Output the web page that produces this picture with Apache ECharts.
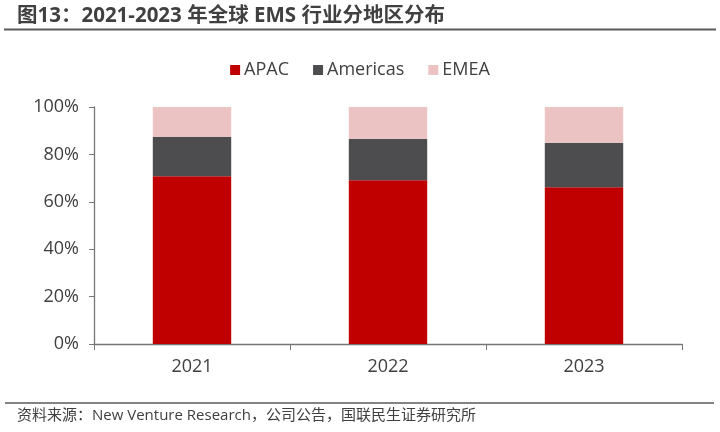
<!DOCTYPE html>
<html>
<head>
<meta charset="utf-8">
<script src="https://cdn.jsdelivr.net/npm/echarts@6/dist/echarts.min.js"></script>
<style>html,body{margin:0;padding:0;background:#fff}#c{width:720px;height:432px}</style>
</head>
<body>
<div id="c"></div>
<script>
const categories = ['2021', '2022', '2023'];
const apac = [70.8, 69.1, 66.1];
const americas = [16.5, 17.5, 18.8];
const emea = [12.7, 13.4, 15.1];
const yTicks = [0, 20, 40, 60, 80, 100];
const titleText = '图13：2021-2023 年全球 EMS 行业分地区分布';
const sourceText = '资料来源：New Venture Research，公司公告，国联民生证券研究所';

const FONT = '"Open Sans", "Noto Sans CJK SC", sans-serif';
const chart = echarts.init(document.getElementById('c'));
chart.setOption({
  animation: false,
  backgroundColor: '#fff',
  textStyle: { fontFamily: FONT },
  title: {
    text: titleText, left: 12, top: 1,
    textStyle: { fontSize: 20.5, fontWeight: 'bold', color: '#404040', fontFamily: FONT }
  },
  legend: {
    top: 56, left: 'center',
    itemWidth: 10, itemHeight: 10, itemGap: 24,
    textStyle: { fontSize: 18, color: '#404040', padding: [0, 0, 0, -1] },
    icon: 'rect',
    data: ['APAC', 'Americas', 'EMEA']
  },
  grid: { left: 94, right: 38, top: 107, bottom: 88 },
  xAxis: {
    type: 'category', data: categories,
    axisLine: { lineStyle: { color: '#767676', width: 1.3 } },
    axisTick: { show: true, length: 6, lineStyle: { color: '#767676' } },
    axisLabel: { fontSize: 18, color: '#404040', margin: 14 }
  },
  yAxis: {
    type: 'value', min: 0, max: 100, interval: 20,
    axisLine: { show: true, lineStyle: { color: '#767676', width: 1.3 } },
    axisTick: { show: true, length: 5, lineStyle: { color: '#767676' } },
    splitLine: { show: false },
    axisLabel: {
      fontSize: 18, color: '#404040', margin: 15,
      formatter: v => (yTicks.includes(v) ? v + '%' : '')
    }
  },
  series: [
    { name: 'APAC', type: 'bar', stack: 's', data: apac, barWidth: '40%',
      itemStyle: { color: '#C00000' } },
    { name: 'Americas', type: 'bar', stack: 's', data: americas, barWidth: '40%',
      itemStyle: { color: '#4D4D4F' } },
    { name: 'EMEA', type: 'bar', stack: 's', data: emea, barWidth: '40%',
      itemStyle: { color: '#EBC3C3' } }
  ],
  graphic: [
    { type: 'line', shape: { x1: 4, y1: 29.5, x2: 716, y2: 29.5 },
      style: { stroke: '#5a5a5a', lineWidth: 2 } },
    { type: 'line', shape: { x1: 5, y1: 403, x2: 714, y2: 403 },
      style: { stroke: '#5a5a5a', lineWidth: 1.5 } },
    { type: 'text', left: 17, top: 408,
      style: { text: sourceText, fontSize: 15, fill: '#404040', fontFamily: FONT } }
  ]
});
</script>
</body>
</html>
